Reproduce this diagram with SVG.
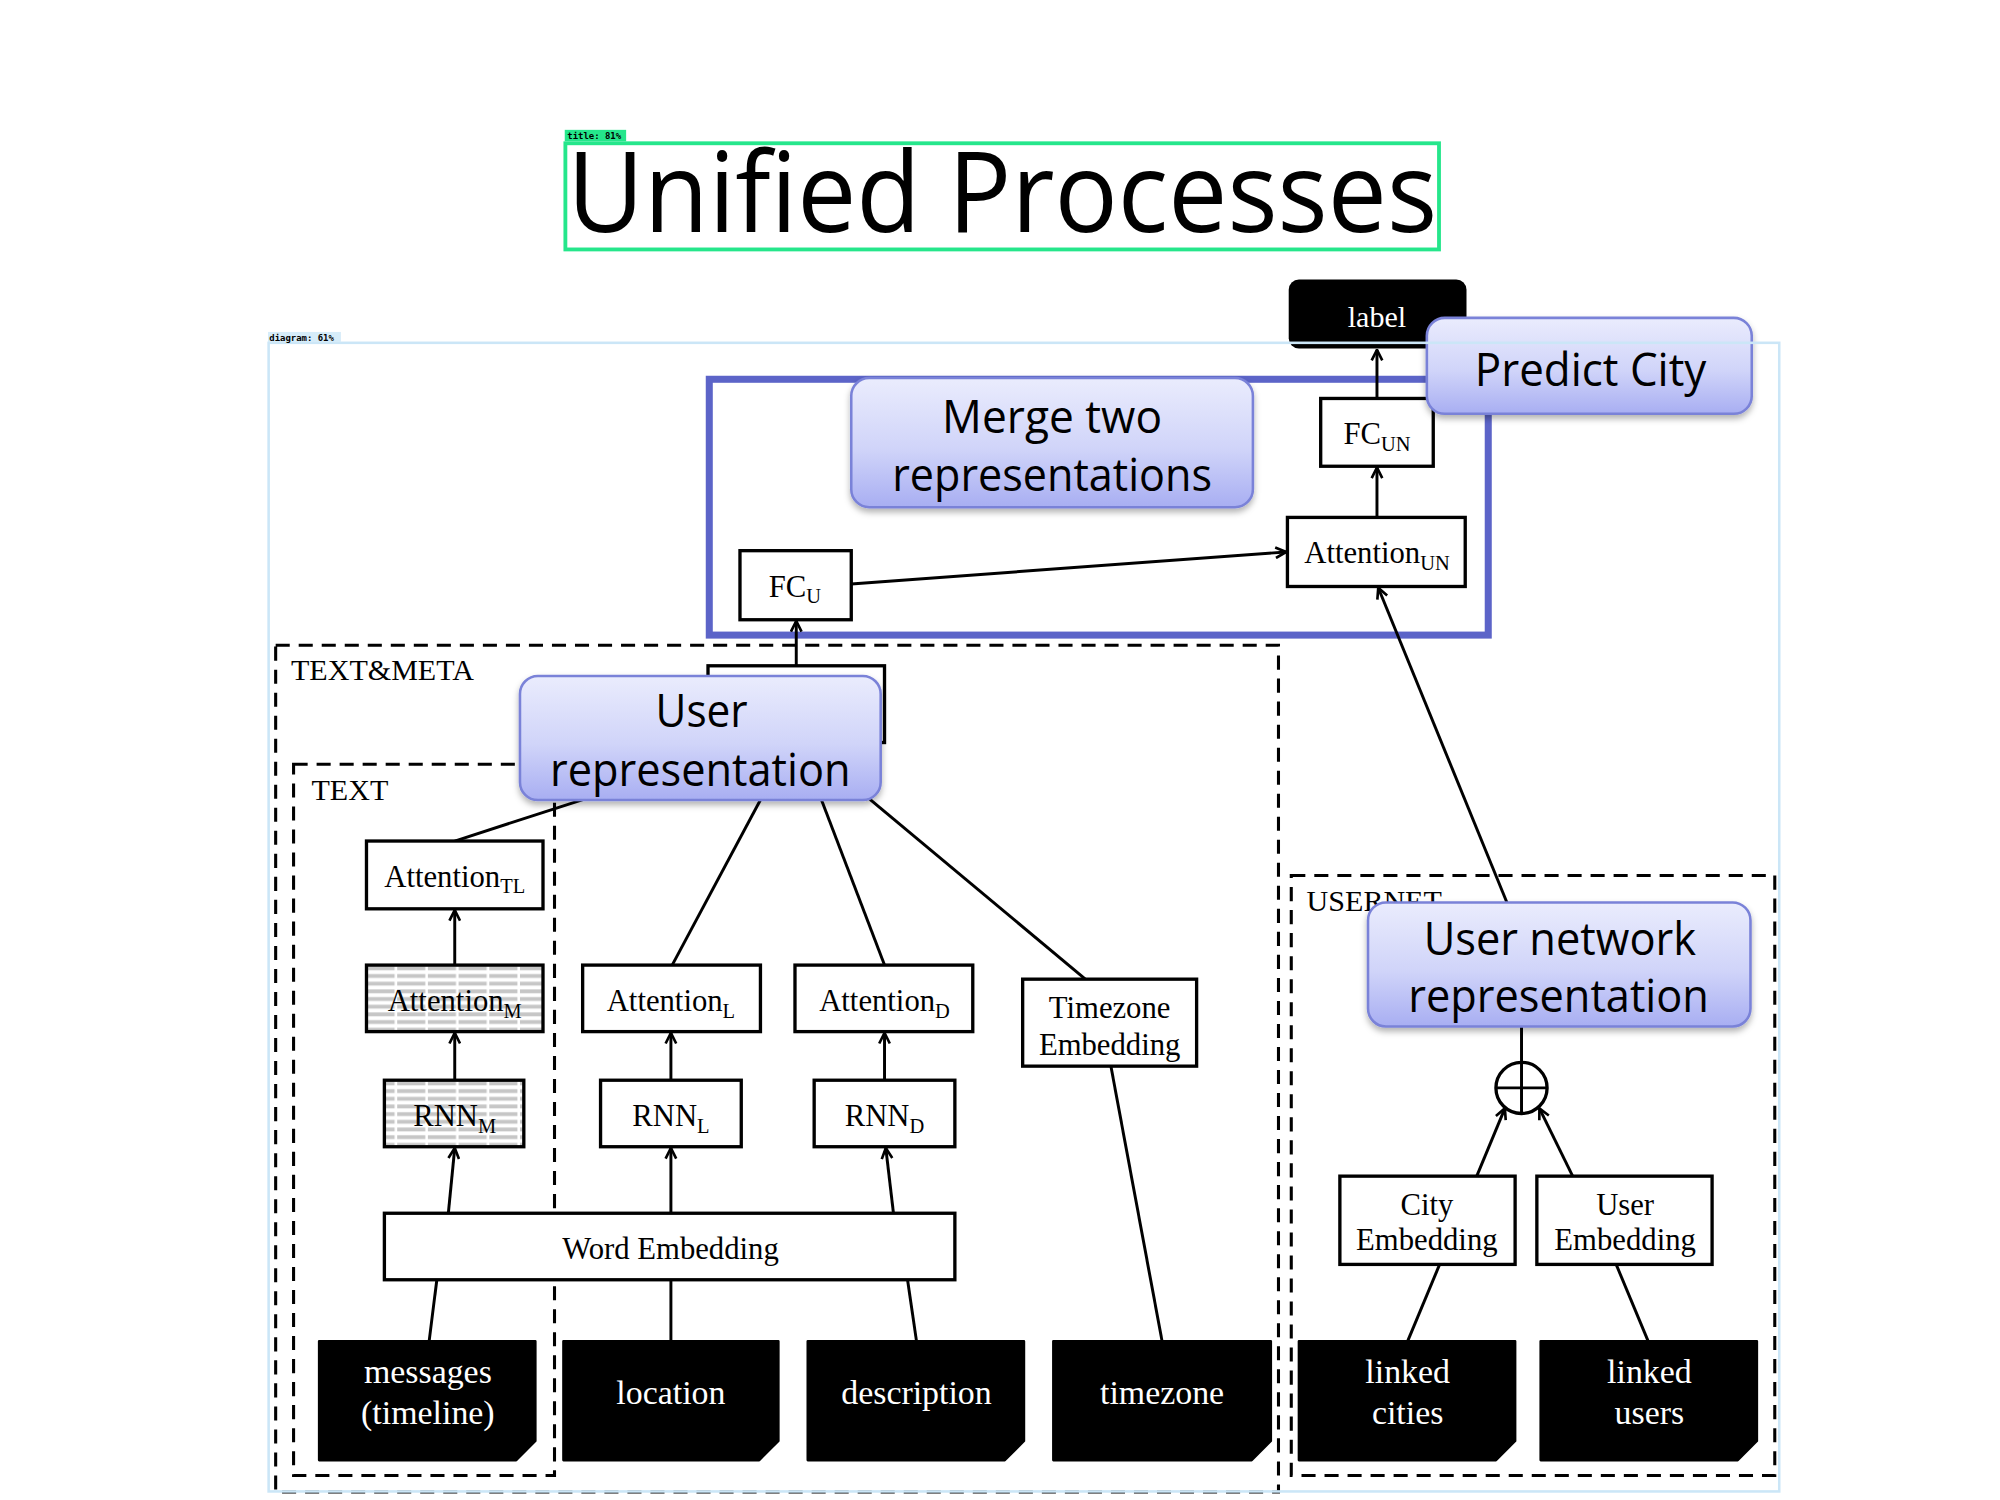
<svg xmlns="http://www.w3.org/2000/svg" width="2000" height="1500" viewBox="0 0 2000 1500">
<style>
.box{fill:#fff;stroke:#000;stroke-width:2.6}
.blk{fill:#000;stroke:#000;stroke-width:2;stroke-linejoin:round}
.dash{fill:none;stroke:#000;stroke-width:2.4;stroke-dasharray:11 7}
.ln{fill:none;stroke:#000;stroke-width:2.3}
.ar{fill:none;stroke:#000;stroke-width:2.3;marker-end:url(#arr)}
.serif{font-family:"Liberation Serif","Times New Roman",serif;fill:#000}
.wt{font-family:"Liberation Serif","Times New Roman",serif;fill:#fff;font-size:26.5px;text-anchor:middle}
.lbl{font-family:"Liberation Serif","Times New Roman",serif;font-size:24px;text-anchor:middle;fill:#000}
.sub{font-size:16px}
.bub{fill:url(#bg);stroke:#7a82d8;stroke-width:2;filter:url(#sh)}
.bt{font-family:"Open Sans","Noto Sans",sans-serif;font-size:36px;text-anchor:middle;fill:#000}
</style>
<defs>
<linearGradient id="bg" x1="0" y1="0" x2="0" y2="1">
<stop offset="0" stop-color="#eaecfd"/>
<stop offset="0.55" stop-color="#d0d4f9"/>
<stop offset="1" stop-color="#a8aef2"/>
</linearGradient>
<filter id="sh" x="-10%" y="-10%" width="120%" height="130%">
<feDropShadow dx="0" dy="3" stdDeviation="2.5" flood-color="#000" flood-opacity="0.3"/>
</filter>
<pattern id="hatch" patternUnits="userSpaceOnUse" width="24" height="6">
<rect width="24" height="6" fill="#fff"/>
<rect x="0" y="1" width="22" height="3" fill="#c6c6c6"/>
</pattern>
<marker id="arr" viewBox="0 0 10 10" refX="9" refY="5" markerWidth="4.5" markerHeight="4.5" orient="auto">
<path d="M1,1 L9,5 L1,9" fill="none" stroke="#000" stroke-width="2"/>
</marker>
</defs>
<g transform="translate(-1.9,-1.9) scale(1.2791)">
<text x="445" y="183" font-family="Open Sans, Noto Sans, sans-serif" font-size="88" textLength="680" lengthAdjust="spacingAndGlyphs" fill="#000">Unified Processes</text>

<g id="containers">
<rect class="dash" x="217" y="506" width="784" height="662"/>
<rect class="dash" x="231" y="599" width="204" height="556"/>
<rect class="dash" x="1011" y="686" width="378" height="469"/>
<text class="serif" x="229" y="533" font-size="23.5">TEXT&amp;META</text>
<text class="serif" x="245" y="627" font-size="23.5">TEXT</text>
<text class="serif" x="1023" y="714" font-size="23.5">USERNET</text>
<rect x="556" y="298" width="609" height="200" fill="none" stroke="#5c64c8" stroke-width="5.5"/>
</g>

<g id="connectors">
<line class="ar" x1="1078" y1="313" x2="1078" y2="275"/>
<line class="ar" x1="1078" y1="406" x2="1078" y2="367"/>
<line class="ar" x1="667" y1="458" x2="1007" y2="433"/>
<line class="ar" x1="1180" y1="708" x2="1079" y2="461"/>
<line class="ar" x1="624" y1="522" x2="624" y2="487"/>
<line class="ln" x1="357" y1="659" x2="462" y2="625"/>
<line class="ln" x1="527" y1="756" x2="597" y2="625"/>
<line class="ln" x1="693" y1="756" x2="643" y2="625"/>
<line class="ln" x1="850" y1="767" x2="680" y2="625"/>
<line class="ar" x1="357" y1="756" x2="357" y2="713"/>
<line class="ar" x1="357" y1="846" x2="357" y2="809"/>
<line class="ar" x1="352" y1="950" x2="357" y2="899"/>
<line class="ln" x1="337" y1="1050" x2="343" y2="1002"/>
<line class="ar" x1="526" y1="846" x2="526" y2="809"/>
<line class="ar" x1="526" y1="950" x2="526" y2="899"/>
<line class="ln" x1="526" y1="1050" x2="526" y2="1002"/>
<line class="ar" x1="693" y1="846" x2="693" y2="809"/>
<line class="ar" x1="700" y1="950" x2="694" y2="899"/>
<line class="ln" x1="718" y1="1050" x2="711" y2="1002"/>
<line class="ln" x1="910" y1="1050" x2="870" y2="835"/>
<line class="ln" x1="1191" y1="804" x2="1191" y2="832"/>
<line class="ar" x1="1156" y1="921" x2="1178" y2="868"/>
<line class="ar" x1="1231" y1="921" x2="1205" y2="868"/>
<line class="ln" x1="1102" y1="1050" x2="1127" y2="990"/>
<line class="ln" x1="1290" y1="1050" x2="1265" y2="990"/>
</g>

<g id="label">
<rect x="1009" y="220" width="139" height="54" rx="8" fill="#000"/>
<text class="serif" x="1078" y="257" font-size="23.5" text-anchor="middle" style="fill:#fff">label</text>
</g>
<g id="fc_un">
<rect class="box" x="1034" y="313" width="88" height="53"/>
<text class="lbl" x="1078" y="349">FC<tspan class="sub" dy="5">UN</tspan></text>
</g>
<g id="attention_un">
<rect class="box" x="1008" y="406" width="139" height="54"/>
<text class="lbl" x="1078" y="442">Attention<tspan class="sub" dy="5">UN</tspan></text>
</g>
<g id="fc_u">
<rect class="box" x="580" y="432" width="87" height="54"/>
<text class="lbl" x="623" y="468">FC<tspan class="sub" dy="5">U</tspan></text>
</g>
<g id="hidden_node">
<rect class="box" x="555" y="522" width="138" height="60"/>
</g>
<g id="attention_tl">
<rect class="box" x="288" y="659" width="138" height="53"/>
<text class="lbl" x="357" y="695">Attention<tspan class="sub" dy="5">TL</tspan></text>
</g>
<g id="attention_m">
<rect class="box" x="288" y="756" width="138" height="52" style="fill:url(#hatch)"/>
<text class="lbl" x="357" y="792">Attention<tspan class="sub" dy="5">M</tspan></text>
</g>
<g id="rnn_m">
<rect class="box" x="302" y="846" width="109" height="52" style="fill:url(#hatch)"/>
<text class="lbl" x="357" y="882">RNN<tspan class="sub" dy="5">M</tspan></text>
</g>
<g id="attention_l">
<rect class="box" x="457" y="756" width="139" height="52"/>
<text class="lbl" x="526" y="792">Attention<tspan class="sub" dy="5">L</tspan></text>
</g>
<g id="rnn_l">
<rect class="box" x="471" y="846" width="110" height="52"/>
<text class="lbl" x="526" y="882">RNN<tspan class="sub" dy="5">L</tspan></text>
</g>
<g id="attention_d">
<rect class="box" x="623" y="756" width="139" height="52"/>
<text class="lbl" x="693" y="792">Attention<tspan class="sub" dy="5">D</tspan></text>
</g>
<g id="rnn_d">
<rect class="box" x="638" y="846" width="110" height="52"/>
<text class="lbl" x="693" y="882">RNN<tspan class="sub" dy="5">D</tspan></text>
</g>
<g id="timezone_embedding">
<rect class="box" x="801" y="767" width="136" height="68"/>
<text class="lbl" x="869" y="797">Timezone</text>
<text class="lbl" x="869" y="826">Embedding</text>
</g>
<g id="word_embedding">
<rect class="box" x="302" y="950" width="446" height="52"/>
<text class="serif" x="441" y="986" font-size="24">Word Embedding</text>
</g>
<g id="city_embedding">
<rect class="box" x="1049" y="921" width="137" height="69"/>
<text class="lbl" x="1117" y="951">City</text>
<text class="lbl" x="1117" y="979">Embedding</text>
</g>
<g id="user_embedding">
<rect class="box" x="1203" y="921" width="137" height="69"/>
<text class="lbl" x="1272" y="951">User</text>
<text class="lbl" x="1272" y="979">Embedding</text>
</g>
<g id="sum">
<circle cx="1191" cy="852" r="20" fill="#fff" stroke="#000" stroke-width="2.6"/>
<line x1="1171" y1="852" x2="1211" y2="852" stroke="#000" stroke-width="2.3"/>
<line x1="1191" y1="832" x2="1191" y2="872" stroke="#000" stroke-width="2.3"/>
</g>

<g id="messages">
<path class="blk" d="M251,1050 H420 V1128 L405,1143 H251 Z"/>
<text class="wt" x="336" y="1083">messages</text>
<text class="wt" x="336" y="1115">(timeline)</text>
</g>
<g id="location">
<path class="blk" d="M442,1050 H610 V1128 L595,1143 H442 Z"/>
<text class="wt" x="526" y="1099">location</text>
</g>
<g id="description">
<path class="blk" d="M633,1050 H802 V1128 L787,1143 H633 Z"/>
<text class="wt" x="718" y="1099">description</text>
</g>
<g id="timezone">
<path class="blk" d="M825,1050 H995 V1128 L980,1143 H825 Z"/>
<text class="wt" x="910" y="1099">timezone</text>
</g>
<g id="linked_cities">
<path class="blk" d="M1017,1050 H1186 V1128 L1171,1143 H1017 Z"/>
<text class="wt" x="1102" y="1083">linked</text>
<text class="wt" x="1102" y="1115">cities</text>
</g>
<g id="linked_users">
<path class="blk" d="M1206,1050 H1375 V1128 L1360,1143 H1206 Z"/>
<text class="wt" x="1291" y="1083">linked</text>
<text class="wt" x="1291" y="1115">users</text>
</g>

<g id="merge_bubble">
<rect class="bub" x="667" y="297" width="314" height="101" rx="14"/>
<text class="bt" x="824" y="340" textLength="172" lengthAdjust="spacingAndGlyphs">Merge two</text>
<text class="bt" x="824" y="385" textLength="250" lengthAdjust="spacingAndGlyphs">representations</text>
</g>
<g id="predict_bubble">
<rect class="bub" x="1117" y="250" width="254" height="75" rx="14"/>
<text class="bt" x="1245" y="303" textLength="181" lengthAdjust="spacingAndGlyphs">Predict City</text>
</g>
<g id="user_rep_bubble">
<rect class="bub" x="408" y="530" width="282" height="97" rx="14"/>
<text class="bt" x="550" y="570" textLength="72" lengthAdjust="spacingAndGlyphs">User</text>
<text class="bt" x="549" y="616" textLength="235" lengthAdjust="spacingAndGlyphs">representation</text>
</g>
<g id="user_net_bubble">
<rect class="bub" x="1071" y="707" width="299" height="97" rx="14"/>
<text class="bt" x="1221" y="748" textLength="213" lengthAdjust="spacingAndGlyphs">User network</text>
<text class="bt" x="1220" y="793" textLength="235" lengthAdjust="spacingAndGlyphs">representation</text>
</g>

<g id="annotations">
<rect x="443.5" y="113.5" width="683" height="83" fill="none" stroke="#25e68b" stroke-width="3"/>
<rect x="443" y="103" width="48" height="9" fill="#25e68b"/>
<text x="445" y="110.5" font-family="DejaVu Sans Mono, monospace" font-size="7" font-weight="bold" fill="#000">title: 81%</text>
<rect x="211.5" y="269.5" width="1181" height="898" fill="none" stroke="#cbe6f7" stroke-width="2"/>
<rect x="211" y="261" width="57" height="8" fill="#d6ecf9"/>
<text x="212" y="268" font-family="DejaVu Sans Mono, monospace" font-size="7" font-weight="bold" fill="#000">diagram: 61%</text>
</g>
</g>
</svg>
